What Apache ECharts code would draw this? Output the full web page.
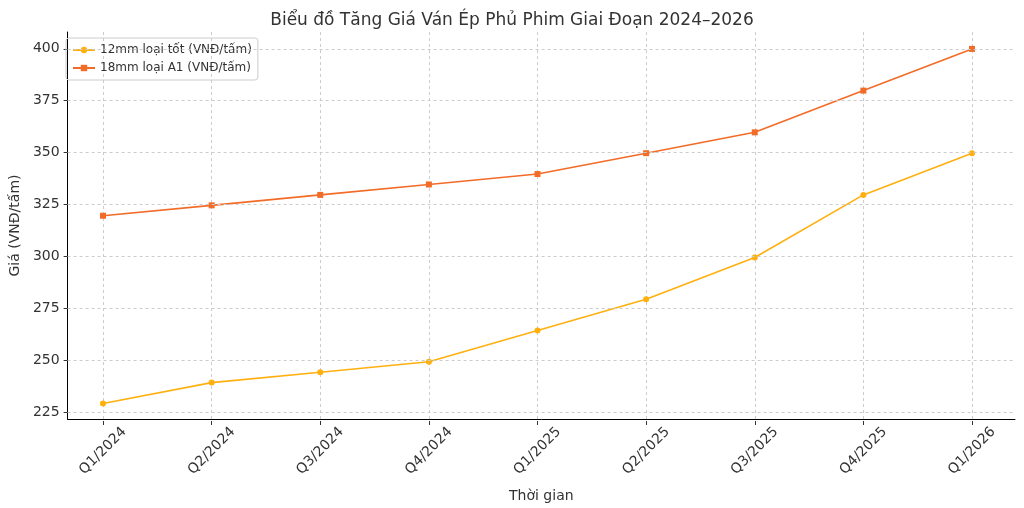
<!DOCTYPE html><html><head><meta charset="utf-8">
<script src="https://cdn.jsdelivr.net/npm/echarts@6/dist/echarts.min.js"></script>
<style>html,body{margin:0;background:#fff}#c{width:1024px;height:508px}</style></head><body><div id="c"></div>
<script>
const categories=['Q1/2024','Q2/2024','Q3/2024','Q4/2024','Q1/2025','Q2/2025','Q3/2025','Q4/2025','Q1/2026'];
const s12=[230,240,245,250,265,280,300,330,350];
const s18=[320,325,330,335,340,350,360,380,400];
const yTicks=[225,250,275,300,325,350,375,400];
const YMIN=221.6,YMAX=408.1;
const ch=echarts.init(document.getElementById('c'));
const font='DejaVu Sans';
ch.setOption({
 animation:false,
 textStyle:{fontFamily:font},
 title:{text:'Biểu đồ Tăng Giá Ván Ép Phủ Phim Giai Đoạn 2024–2026',left:'center',top:7,textStyle:{fontSize:17,fontWeight:'normal',color:'#333',fontFamily:font}},
 legend:{orient:'vertical',left:66,top:38,itemWidth:22,itemHeight:8,itemGap:6,padding:[6,6,6,6],borderColor:'#ccc',borderWidth:1,borderRadius:3,textStyle:{fontSize:12,color:'#333'},data:['12mm loại tốt (VNĐ/tấm)','18mm loại A1 (VNĐ/tấm)']},
 grid:[{left:60,right:9,top:32,bottom:87},{left:103,right:52,top:32,bottom:87}],
 xAxis:[
  {gridIndex:0,type:'value',min:0,max:1,axisLine:{lineStyle:{color:'#000'}},axisTick:{show:false},axisLabel:{show:false},splitLine:{show:false},
   name:'Thời gian',nameLocation:'middle',nameGap:70,nameTextStyle:{fontSize:14,color:'#333'}},
  {gridIndex:1,type:'category',data:categories,boundaryGap:false,axisLine:{show:false},axisTick:{show:true,length:4,lineStyle:{color:'#333'}},
   axisLabel:{rotate:45,fontSize:14,color:'#333',margin:30,align:'center',verticalAlign:'middle'},splitLine:{show:true,lineStyle:{color:'#ccc',type:[3,3]}}}
 ],
 yAxis:[
  {gridIndex:0,type:'value',min:YMIN,max:YMAX,axisLine:{show:true,lineStyle:{color:'#000'}},
   axisTick:{show:true,length:4,lineStyle:{color:'#333'},customValues:yTicks},
   axisLabel:{fontSize:14,color:'#333',customValues:yTicks},
   splitLine:{show:false},
   name:'Giá (VNĐ/tấm)',nameLocation:'middle',nameGap:42,nameTextStyle:{fontSize:14,color:'#333'}},
  {gridIndex:1,type:'value',min:YMIN,max:YMAX,show:false,splitLine:{show:false}}
 ],
 series:[
  {name:'grid',type:'line',xAxisIndex:0,yAxisIndex:0,data:[],silent:true,
   markLine:{silent:true,symbol:'none',label:{show:false},lineStyle:{color:'#ccc',type:[3,3],width:1},data:yTicks.map(v=>({yAxis:v}))}},
  {name:'12mm loại tốt (VNĐ/tấm)',type:'line',xAxisIndex:1,yAxisIndex:1,data:s12,symbol:'circle',symbolSize:6,color:'#FFB00F',lineStyle:{width:1.6}},
  {name:'18mm loại A1 (VNĐ/tấm)',type:'line',xAxisIndex:1,yAxisIndex:1,data:s18,symbol:'rect',symbolSize:6,color:'#F26C28',lineStyle:{width:1.6}}
 ]
});
</script></body></html>
